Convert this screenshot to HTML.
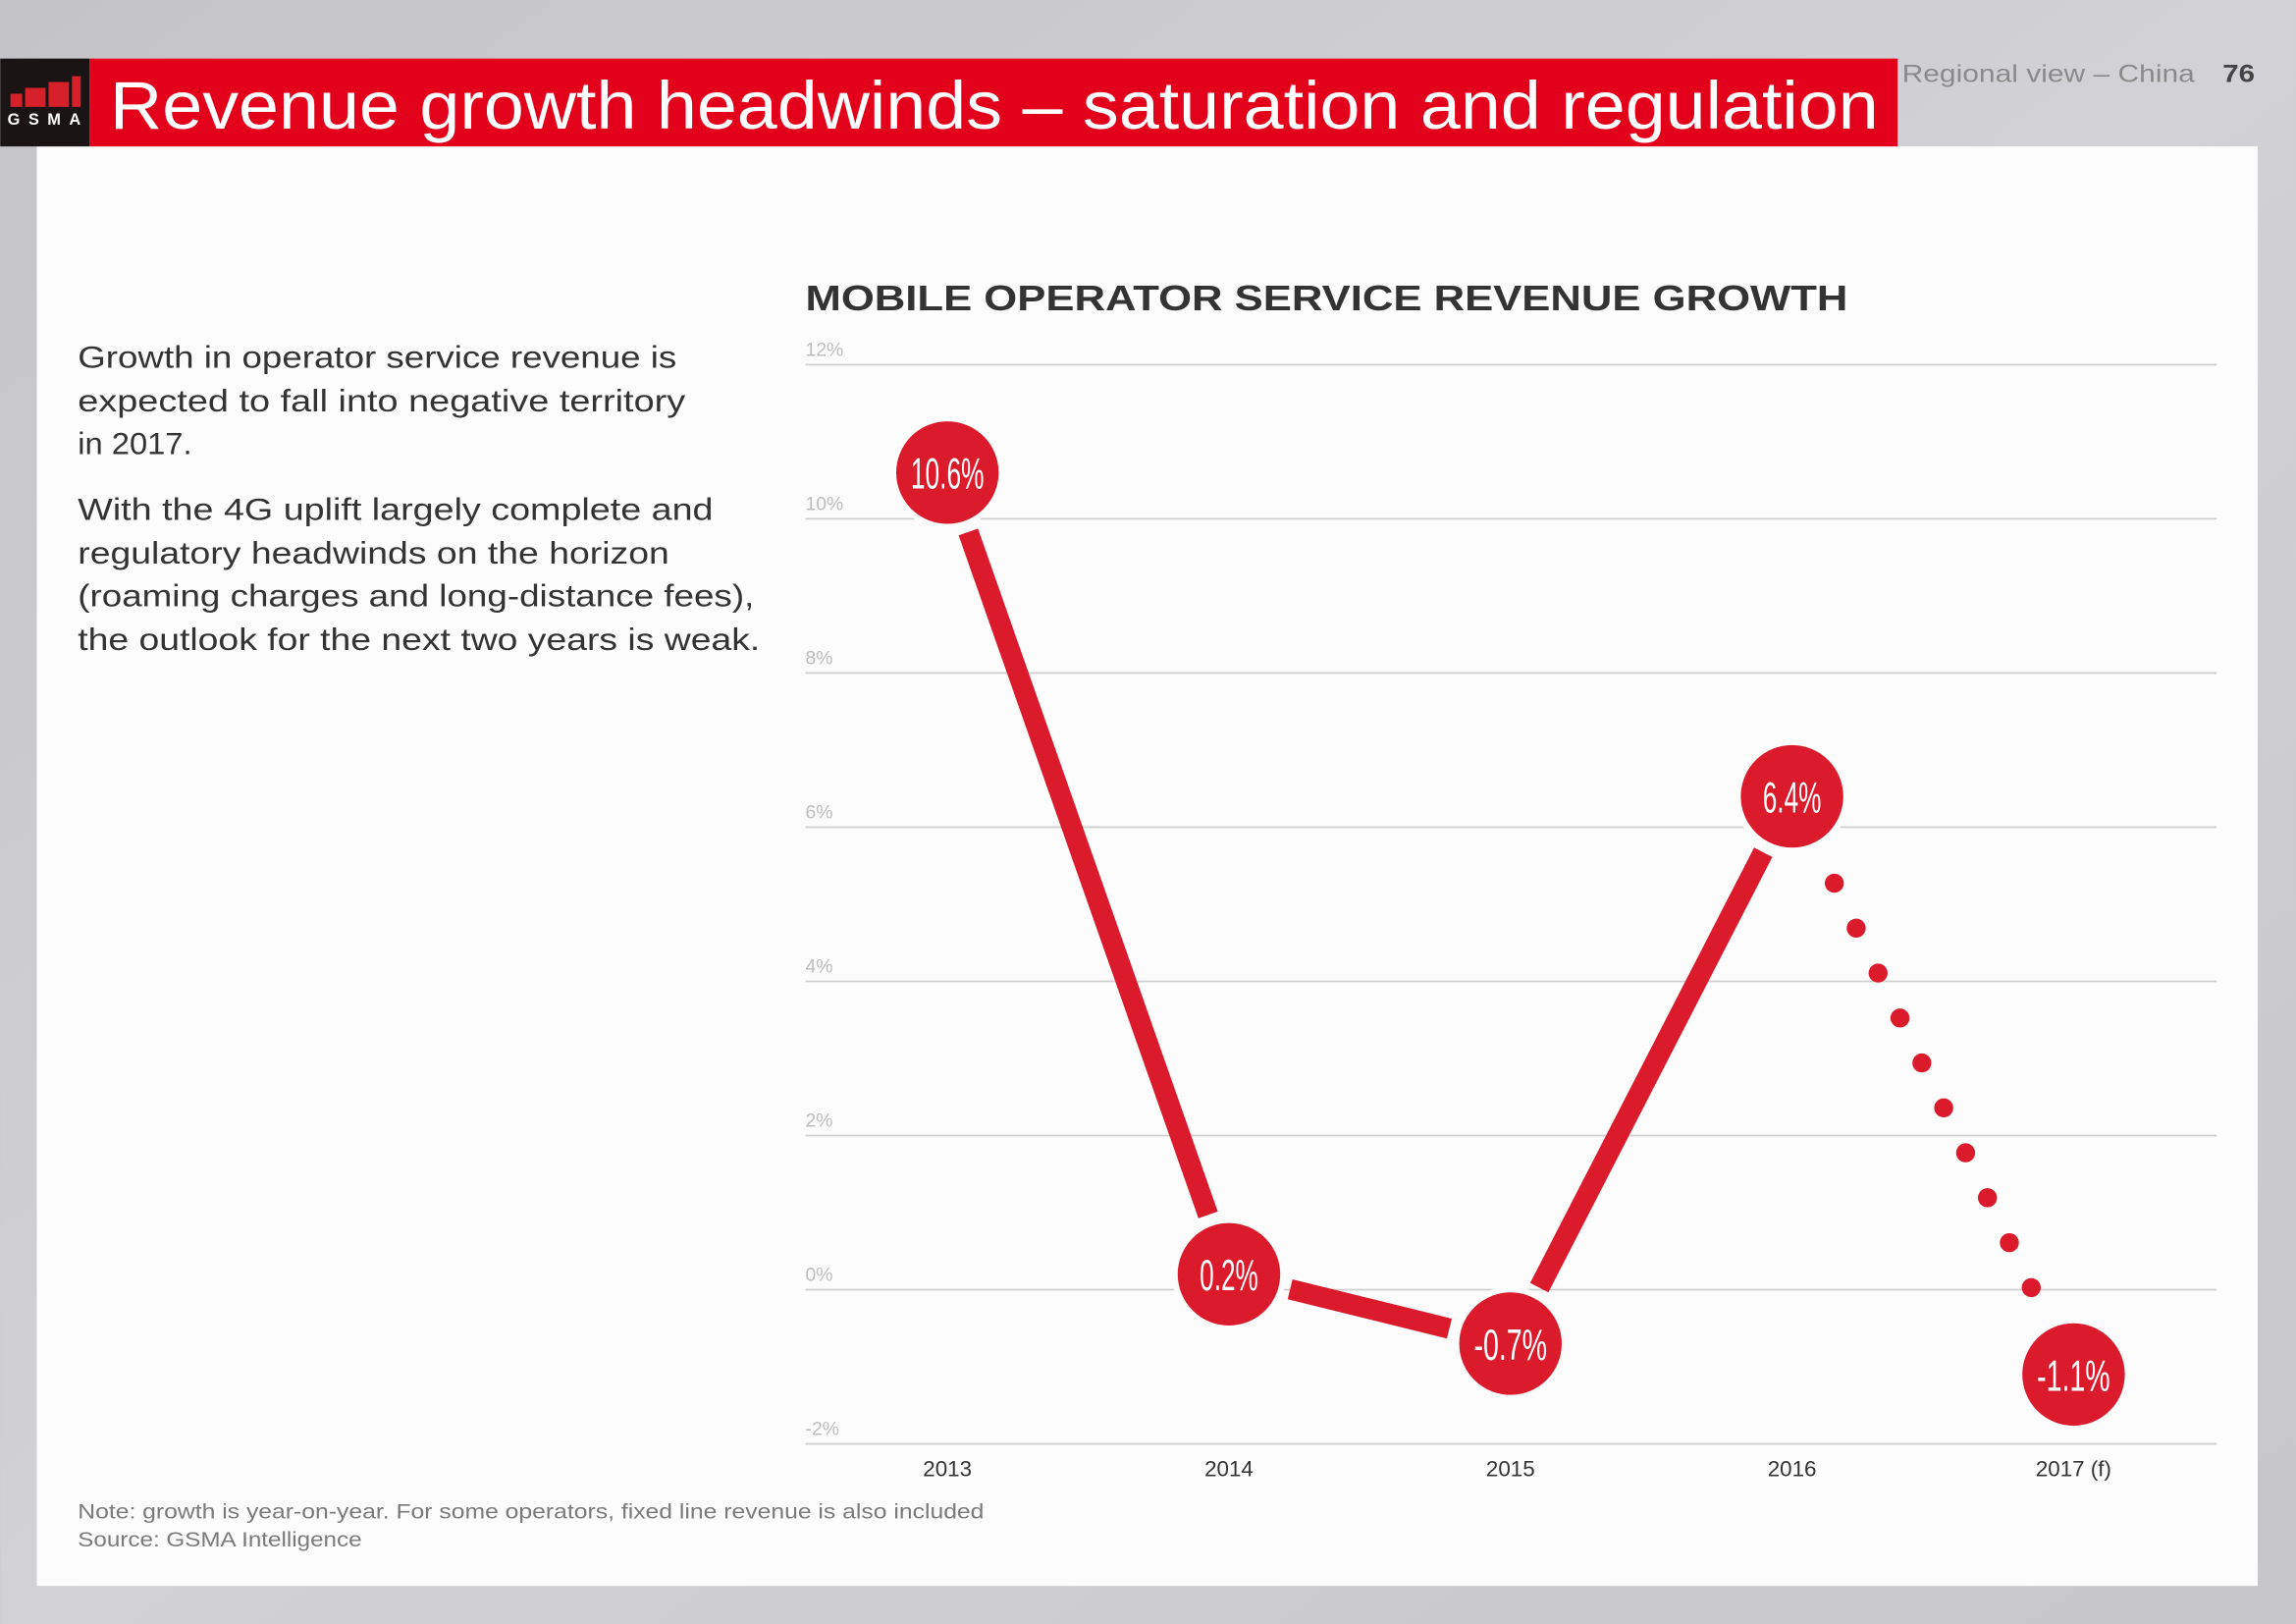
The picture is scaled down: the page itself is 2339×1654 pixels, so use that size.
<!DOCTYPE html>
<html><head><meta charset="utf-8">
<style>
html,body{margin:0;padding:0;background:#c8c8cc;}
svg{display:block;}
text{font-family:"Liberation Sans",sans-serif;}
</style></head>
<body>
<svg id="page" width="2339" height="1654" viewBox="0 0 1568 1109" xmlns="http://www.w3.org/2000/svg">
  <defs>
    <linearGradient id="bg" x1="0" y1="0" x2="1" y2="1">
      <stop offset="0" stop-color="#c4c4c8"/>
      <stop offset="0.5" stop-color="#d2d2d6"/>
      <stop offset="1" stop-color="#c6c6ca"/>
    </linearGradient>
  </defs>
  <rect x="0" y="0" width="1568" height="1109" fill="url(#bg)"/>
  <rect x="25" y="100" width="1517" height="983" fill="#fcfcfc"/>
  <g>
    <rect x="0" y="40" width="61" height="60" fill="#1a1414"/>
    <g fill="#d6202a">
      <rect x="7" y="64" width="8" height="9"/>
      <rect x="17" y="60" width="14" height="13"/>
      <rect x="33" y="56" width="14" height="17"/>
      <rect x="49" y="52" width="6" height="21"/>
    </g>
    <text x="5" y="85" font-size="11" font-weight="bold" fill="#fff" textLength="50">GSMA</text>
    <rect x="61" y="40" width="1235" height="60" fill="#e2001a"/>
    <text x="75" y="88" font-size="46" fill="#fff" textLength="1208" lengthAdjust="spacingAndGlyphs">Revenue growth headwinds – saturation and regulation</text>
    <text x="1299" y="56" font-size="17" fill="#8a8a8a" textLength="200" lengthAdjust="spacingAndGlyphs">Regional view – China</text>
    <text x="1518" y="56" font-size="17" font-weight="bold" fill="#444" textLength="22" lengthAdjust="spacingAndGlyphs">76</text>
  </g>
  <g font-size="21" fill="#333">
    <text x="53" y="251" textLength="409" lengthAdjust="spacingAndGlyphs">Growth in operator service revenue is</text>
    <text x="53" y="281" textLength="415" lengthAdjust="spacingAndGlyphs">expected to fall into negative territory</text>
    <text x="53" y="310" textLength="78" lengthAdjust="spacingAndGlyphs">in 2017.</text>
    <text x="53" y="355" textLength="434" lengthAdjust="spacingAndGlyphs">With the 4G uplift largely complete and</text>
    <text x="53" y="385" textLength="404" lengthAdjust="spacingAndGlyphs">regulatory headwinds on the horizon</text>
    <text x="53" y="414" textLength="462" lengthAdjust="spacingAndGlyphs">(roaming charges and long-distance fees),</text>
    <text x="53" y="444" textLength="466" lengthAdjust="spacingAndGlyphs">the outlook for the next two years is weak.</text>
  </g>
  <text x="550" y="212" font-size="24" font-weight="bold" fill="#333" textLength="712" lengthAdjust="spacingAndGlyphs">MOBILE OPERATOR SERVICE REVENUE GROWTH</text>
  <g id="chart"></g>
  <g font-size="14.5" fill="#7a7a7a">
    <text x="53" y="1037" textLength="619" lengthAdjust="spacingAndGlyphs">Note: growth is year-on-year. For some operators, fixed line revenue is also included</text>
    <text x="53" y="1056" textLength="194" lengthAdjust="spacingAndGlyphs">Source: GSMA Intelligence</text>
  </g>
</svg>
<script>
const categories = ["2013", "2014", "2015", "2016", "2017 (f)"];
const values = [10.6, 0.2, -0.7, 6.4, -1.1];
const valueLabels = ["10.6%", "0.2%", "-0.7%", "6.4%", "-1.1%"];
const yTicks = [12, 10, 8, 6, 4, 2, 0, -2];
const forecastFrom = 3;

const NS = "http://www.w3.org/2000/svg";
const g = document.getElementById("chart");
const plotLeft = 550, plotRight = 1514;
const yTop = 249, yBottom = 986, yMax = 12, yMin = -2;
const xFirst = 647, xStep = 192.3;
const RED = "#db1a2b", R = 37;
function yScale(v){ return yTop + (yMax - v) / (yMax - yMin) * (yBottom - yTop); }
function xScale(i){ return xFirst + i * xStep; }
function mk(tag, attrs){ const e = document.createElementNS(NS, tag); for (const k in attrs) e.setAttribute(k, attrs[k]); g.appendChild(e); return e; }

yTicks.forEach(t => {
  const y = yScale(t);
  const line = mk("line", {x1: plotLeft, x2: plotRight, y1: y, y2: y, stroke: "#cfcfcf", "stroke-width": 1.2});
  
  
  const lb = mk("text", {x: plotLeft, y: y - 6, "font-size": 13, fill: "#bdbdbd"});
  lb.textContent = t + "%";
  
  
});

categories.forEach((c, i) => {
  const t = mk("text", {x: xScale(i), y: 1008, "font-size": 15, fill: "#333", "text-anchor": "middle"});
  t.textContent = c;
  
  
});

for (let i = 0; i < values.length - 1; i++) {
  const x1 = xScale(i), y1 = yScale(values[i]), x2 = xScale(i + 1), y2 = yScale(values[i + 1]);
  const dx = x2 - x1, dy = y2 - y1, len = Math.hypot(dx, dy), ux = dx / len, uy = dy / len;
  if (i < forecastFrom) {
    const gap = R + 6;
    const seg = mk("line", {x1: x1 + ux * gap, y1: y1 + uy * gap, x2: x2 - ux * gap, y2: y2 - uy * gap, stroke: RED, "stroke-width": 14});
    
    
  } else {
    const start = 66, end = len - 66, n = 10;
    for (let k = 0; k < n; k++) {
      const d = start + (end - start) * k / (n - 1);
      const dot = mk("circle", {cx: x1 + ux * d, cy: y1 + uy * d, r: 6.5, fill: RED});
      
      
    }
  }
}

values.forEach((v, i) => {
  const cx = xScale(i), cy = yScale(v);
  const c = mk("circle", {cx: cx, cy: cy, r: R, fill: RED, stroke: "#fcfcfc", "stroke-width": 4});
  
  
  const lbl = valueLabels[i];
  const t = mk("text", {x: cx, y: cy + 11, "font-size": 30, fill: "#fff", "text-anchor": "middle", textLength: lbl.length * 10, lengthAdjust: "spacingAndGlyphs"});
  t.textContent = lbl;
  
  
});
</script>
</body></html>
